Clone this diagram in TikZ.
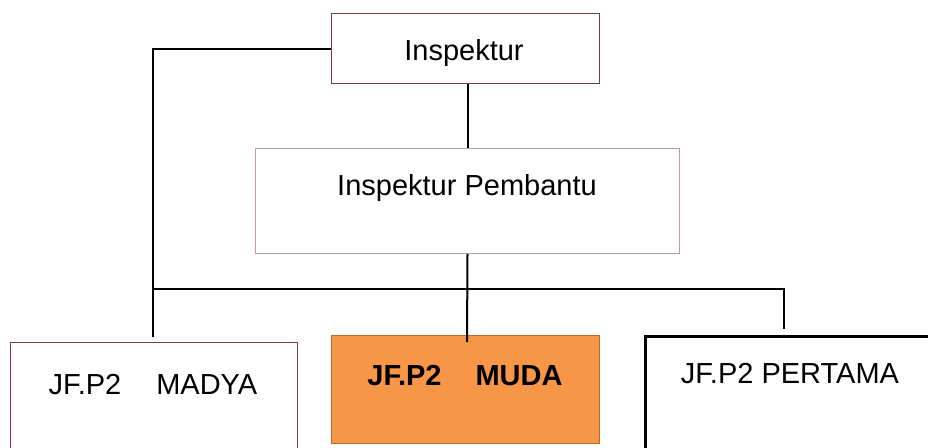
\documentclass[tikz,border=0pt]{standalone}
\usepackage{fontspec}
\setmainfont{Liberation Sans}
\definecolor{boxred}{HTML}{7B3B3B}
\definecolor{boxpink}{HTML}{C29C9C}
\definecolor{mudafill}{HTML}{F79646}
\definecolor{mudaline}{HTML}{B8692E}
\begin{document}
\begin{tikzpicture}[x=1pt,y=-1pt,
  box/.style={draw, rectangle, inner sep=0pt, line width=1.3pt, anchor=north west},
  conn/.style={draw=black, line width=2pt},
  lbl/.style={anchor=base, inner sep=0pt, font=\fontsize{29}{34}\selectfont}]
\useasboundingbox (0,0) rectangle (928,447);
% boxes
\node[box, draw=boxred, minimum width=268pt, minimum height=70pt] (ins) at (331,13) {};
\node[box, draw=boxpink, line width=1pt, minimum width=424pt, minimum height=105pt] (pem) at (255,148) {};
\node[box, draw=boxred, minimum width=287pt, minimum height=120pt] (madya) at (10,342) {};
\node[box, draw=mudaline, fill=mudafill, minimum width=268pt, minimum height=108pt] (muda) at (331,335) {};
\node[box, draw=black, line width=3pt, minimum width=300pt, minimum height=130pt] (pert) at (644,335) {};
% labels
\node[lbl] (t-ins) at (464,60) {Inspektur};
\node[lbl] (t-pem) at (467,195) {Inspektur Pembantu};
\node[lbl] (t-madya) at (153,394) {JF.P2\hspace{35pt}MADYA};
\node[lbl, font=\fontsize{29}{34}\selectfont\bfseries] (t-muda) at (465,385) {JF.P2\hspace{34pt}MUDA};
\node[lbl] (t-pert) at (790,383) {JF.P2 PERTAMA};
% connector end points
\coordinate (madya-end) at (153,337);
\coordinate (bar-l) at (153,289);
\coordinate (bar-r) at (784,289);
\coordinate (pert-end) at (784,329);
\coordinate (muda-end) at (467,342);
% connectors
\draw[conn] (ins.west) -| (madya-end);
\draw[conn] (pem.north) -- (pem.north |- ins.south);
\draw[conn] (pem.south) -- (muda-end);
\draw[conn] (bar-l) -- (bar-r) -- (pert-end);
\end{tikzpicture}
\end{document}
